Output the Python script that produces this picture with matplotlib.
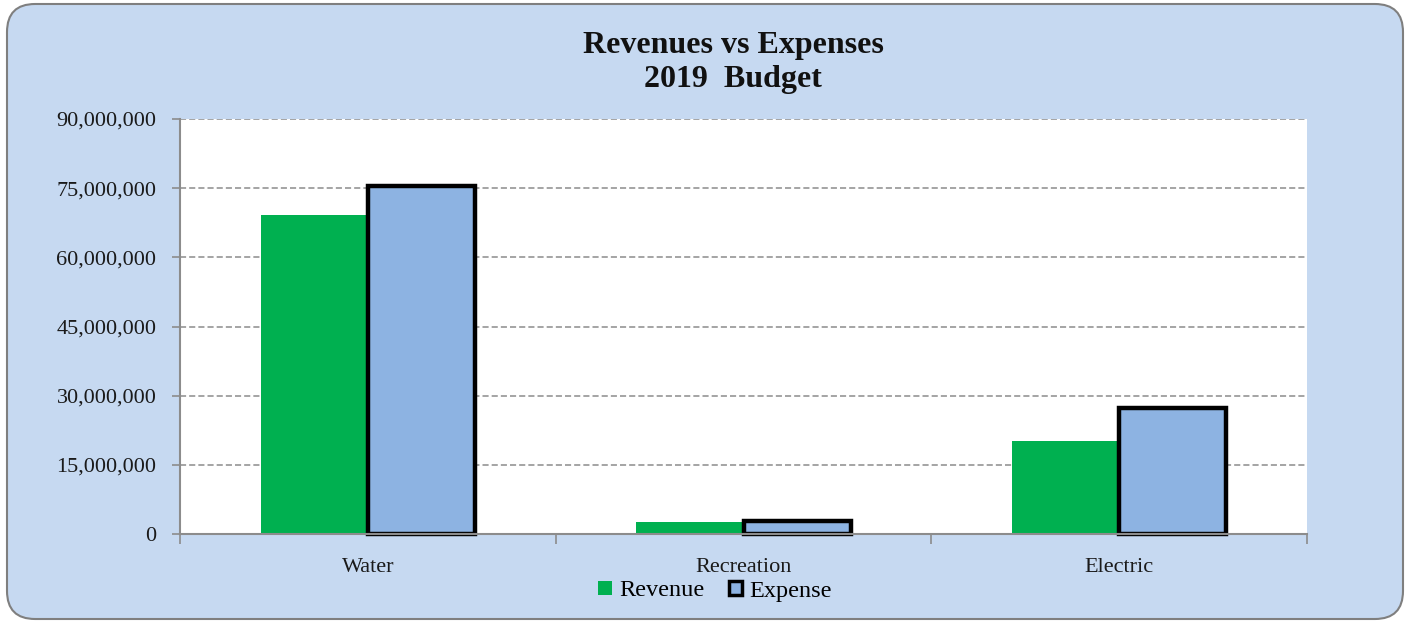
import matplotlib
matplotlib.use("Agg")
import matplotlib.pyplot as plt
from matplotlib.patches import FancyBboxPatch, Patch
from matplotlib.ticker import FuncFormatter
import numpy as np

categories = ["Water", "Recreation", "Electric"]
revenue = [69200000, 2700000, 20200000]
expense = [75500000, 2900000, 27300000]
yticks = [0, 15000000, 30000000, 45000000, 60000000, 75000000, 90000000]

green = "#00B050"
blue = "#8DB3E2"
bg = "#C6D9F1"
grey = "#8C8C8C"

plt.rcParams['font.family'] = ['Liberation Serif', 'DejaVu Serif']

fig = plt.figure(figsize=(14.05, 6.23), dpi=100)
fig.patch.set_facecolor("white")
border = FancyBboxPatch((7 / 1405, 4 / 623), 1396 / 1405, 615 / 623,
                        boxstyle="round,pad=0,rounding_size=0.02",
                        transform=fig.transFigure, facecolor=bg,
                        edgecolor="#7F7F7F", linewidth=1.5,
                        mutation_aspect=1405 / 623, zorder=-10)
fig.patches.append(border)

ax = fig.add_axes([180 / 1405, 1 - 534 / 623, 1127 / 1405, 415 / 623])
ax.set_facecolor("white")

x = np.arange(len(categories))
w = 0.285
ax.bar(x - w / 2, revenue, width=w, color=green, edgecolor="none", zorder=3)
ax.bar(x + w / 2, expense, width=w, color=blue, edgecolor="black",
       linewidth=3.2, zorder=4, clip_on=False)

ax.set_xlim(-0.5, 2.5)
ax.set_ylim(0, 90000000)
ax.set_yticks(yticks)
ax.yaxis.set_major_formatter(FuncFormatter(lambda v, p: f"{int(v):,}"))
ax.grid(axis="y", color=grey, linestyle=(0, (4, 2)), linewidth=1.1, zorder=1)

ax.set_xticks([-0.5, 0.5, 1.5, 2.5])
ax.set_xticklabels([])
ax.set_xticks(x, minor=True)
ax.set_xticklabels(categories, minor=True)
ax.tick_params(axis="x", which="minor", length=0, pad=17, labelsize=16,
               labelcolor="#1a1a1a")
ax.tick_params(axis="x", which="major", length=7, color=grey, width=1.2)
ax.tick_params(axis="y", length=6, color=grey, width=1.2, labelsize=16,
               labelcolor="#1a1a1a", pad=11)

for s in ["top", "right"]:
    ax.spines[s].set_visible(False)
for s in ["left", "bottom"]:
    ax.spines[s].set_color(grey)
    ax.spines[s].set_linewidth(1.5)
ax.spines["bottom"].set_zorder(5)

fig.text(733 / 1405, 1 - 46 / 623, "Revenues vs Expenses", ha="center",
         va="center", fontsize=23, fontweight="bold", color="#111111")
fig.text(733 / 1405, 1 - 79 / 623, "2019  Budget", ha="center",
         va="center", fontsize=23, fontweight="bold", color="#111111")

handles = [Patch(facecolor=green, edgecolor="none", label="Revenue"),
           Patch(facecolor=blue, edgecolor="black", linewidth=2.5, label="Expense")]
fig.legend(handles=handles, loc="center", bbox_to_anchor=(715 / 1405, 1 - 591 / 623),
           ncol=2, frameon=False, fontsize=17.5, handlelength=0.55, handleheight=0.55,
           handletextpad=0.3, columnspacing=1.0)

fig.savefig("out.png", dpi=100, facecolor=fig.get_facecolor())
